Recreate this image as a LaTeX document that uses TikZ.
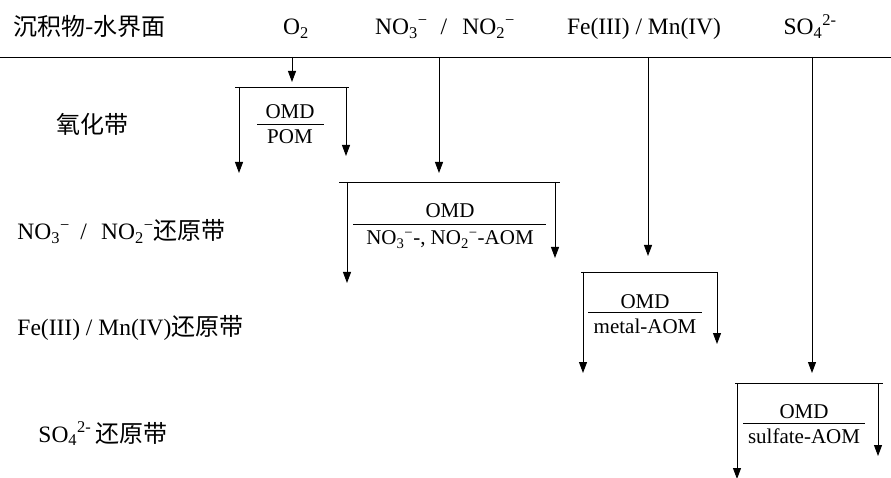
\documentclass[tikz,border=0pt]{standalone}
\usepackage{fontspec}
\setmainfont{Liberation Serif}
\newfontfamily\cjk{Noto Sans CJK SC}
\usetikzlibrary{arrows.meta}
\newcommand{\zhtext}[1]{{\cjk\fontsize{24}{28}\selectfont #1}}
\begin{document}
\begin{tikzpicture}[x=1pt,y=-1pt,line width=0.9pt,
  lbl/.style={font=\fontsize{23.5}{28}\selectfont, inner sep=0pt, anchor=base},
  lat/.style={font=\fontsize{21}{24}\selectfont, inner sep=0pt, anchor=base},
  zh/.style={font=\cjk\fontsize{24}{28}\selectfont, inner sep=0pt, anchor=base},
  arr/.style={-{Triangle[width=8pt,length=11pt]}},
  bar/.style={line width=0.9pt}]
\useasboundingbox (0,0) rectangle (891,478);
% header
\node[zh, anchor=base west] (hzone) at (13,36) {沉积物-水界面};
\node[lbl] (ho2) at (296,35) {O\textsubscript{2}};
\node[lbl] (hno) at (445,35) {NO\textsubscript{3}\textsuperscript{−}\hspace{0.55em}/\hspace{0.65em}NO\textsubscript{2}\textsuperscript{−}};
\node[lbl] (hfe) at (644,35) {Fe(III) / Mn(IV)};
\node[lbl] (hso) at (810,35) {SO\textsubscript{4}\textsuperscript{2-}};
% interface line
\coordinate (sl) at (0,57);
\coordinate (sr) at (891,57);
\draw (sl) -- (sr);
% zone labels
\node[zh] (z1) at (92,134) {氧化带};
\node[lbl, anchor=base west] (z2) at (17,240) {NO\textsubscript{3}\textsuperscript{−}\hspace{0.45em}/\hspace{0.6em}NO\textsubscript{2}\textsuperscript{−}\zhtext{还原带}};
\node[lbl, anchor=base west] (z3) at (17,335) {Fe(III) / Mn(IV)\zhtext{还原带}};
\node[lbl, anchor=base west] (z4) at (38,442) {SO\textsubscript{4}\textsuperscript{2-}\,\zhtext{还原带}};
% coordinates
\coordinate (a1s) at (292,57);  \coordinate (a1e) at (292,82);
\coordinate (a2s) at (439,57);  \coordinate (a2e) at (439,173);
\coordinate (a3s) at (648,57);  \coordinate (a3e) at (648,256);
\coordinate (a4s) at (812,57);  \coordinate (a4e) at (812,373);
% box 1
\coordinate (b1l) at (235,87); \coordinate (b1r) at (349,87);
\coordinate (b1la) at (239,87); \coordinate (b1le) at (239,173);
\coordinate (b1ra) at (346,87); \coordinate (b1re) at (346,156);
% box 2
\coordinate (b2l) at (339,182); \coordinate (b2r) at (560,182);
\coordinate (b2la) at (347,182); \coordinate (b2le) at (347,283);
\coordinate (b2ra) at (555,182); \coordinate (b2re) at (555,258);
% box 3
\coordinate (b3l) at (581,272); \coordinate (b3r) at (718,272);
\coordinate (b3la) at (583,272); \coordinate (b3le) at (583,373);
\coordinate (b3ra) at (717,272); \coordinate (b3re) at (717,344);
% box 4
\coordinate (b4l) at (735,383); \coordinate (b4r) at (883,383);
\coordinate (b4la) at (737,383); \coordinate (b4le) at (737,479);
\coordinate (b4ra) at (878,383); \coordinate (b4re) at (878,456);
% main arrows
\draw[arr] (a1s) -- (a1e);
\draw[arr] (a2s) -- (a2e);
\draw[arr] (a3s) -- (a3e);
\draw[arr] (a4s) -- (a4e);
% bars and branch arrows
\draw (b1l) -- (b1r);
\draw[arr] (b1la) -- (b1le);
\draw[arr] (b1ra) -- (b1re);
\draw (b2l) -- (b2r);
\draw[arr] (b2la) -- (b2le);
\draw[arr] (b2ra) -- (b2re);
\draw (b3l) -- (b3r);
\draw[arr] (b3la) -- (b3le);
\draw[arr] (b3ra) -- (b3re);
\draw (b4l) -- (b4r);
\draw[arr] (b4la) -- (b4le);
\draw[arr] (b4ra) -- (b4re);
% fractions
\node[lat] (f1a) at (290,119) {OMD};
\coordinate (f1l) at (257,124); \coordinate (f1r) at (324,124);
\draw[bar] (f1l) -- (f1r);
\node[lat] (f1b) at (290,144) {POM};
\node[lat] (f2a) at (450,218) {OMD};
\coordinate (f2l) at (353,224); \coordinate (f2r) at (546,224);
\draw[bar] (f2l) -- (f2r);
\node[lat] (f2b) at (450,245) {NO\textsubscript{3}\textsuperscript{−}-, NO\textsubscript{2}\textsuperscript{−}-AOM};
\node[lat] (f3a) at (645,308) {OMD};
\coordinate (f3l) at (588,312); \coordinate (f3r) at (702,312);
\draw[bar] (f3l) -- (f3r);
\node[lat] (f3b) at (645,333) {metal-AOM};
\node[lat] (f4a) at (804,418) {OMD};
\coordinate (f4l) at (743,423); \coordinate (f4r) at (865,423);
\draw[bar] (f4l) -- (f4r);
\node[lat] (f4b) at (804,443) {sulfate-AOM};
\end{tikzpicture}
\end{document}
